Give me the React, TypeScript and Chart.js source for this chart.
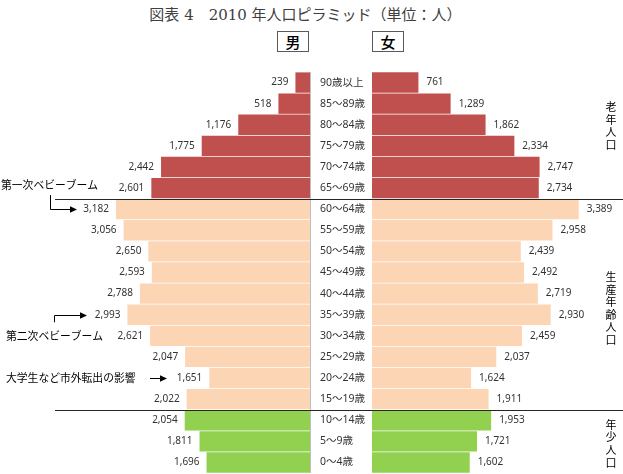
import React, { useEffect, useRef } from 'react';
import { Chart, registerables } from 'chart.js';

Chart.register(...registerables);

const categories = [
  '90歳以上', '85〜89歳', '80〜84歳', '75〜79歳', '70〜74歳', '65〜69歳',
  '60〜64歳', '55〜59歳', '50〜54歳', '45〜49歳', '40〜44歳', '35〜39歳',
  '30〜34歳', '25〜29歳', '20〜24歳', '15〜19歳', '10〜14歳', '5〜9歳', '0〜4歳',
];
const maleValues = [239, 518, 1176, 1775, 2442, 2601, 3182, 3056, 2650, 2593, 2788, 2993, 2621, 2047, 1651, 2022, 2054, 1811, 1696];
const femaleValues = [761, 1289, 1862, 2334, 2747, 2734, 3389, 2958, 2439, 2492, 2719, 2930, 2459, 2037, 1624, 1911, 1953, 1721, 1602];
const groupIndex = [0, 0, 0, 0, 0, 0, 1, 1, 1, 1, 1, 1, 1, 1, 1, 1, 2, 2, 2];
const groupNames = ['老年人口', '生産年齢人口', '年少人口'];
const groupColors = ['#C0504D', '#FCD5B5', '#92D050'];
const titleText = '図表 4　2010 年人口ピラミッド（単位：人）';
const sexLabels = ['男', '女'];
const notes = ['第一次ベビーブーム', '第二次ベビーブーム', '大学生など市外転出の影響'];

const AXIS_MAX = 4000;
const LABEL_FONT = '10px "Noto Sans", "Noto Sans CJK JP", sans-serif';
const CAT_FONT = '10.5px "Noto Sans", "Noto Sans CJK JP", sans-serif';
const NOTE_FONT = '10.8px "Noto Sans CJK JP", sans-serif';
const GROUP_FONT = '11px "Noto Sans CJK JP", sans-serif';
const TEXT_COLOR = '#333333';

const fmt = (v: number) => v.toLocaleString('en-US');
const barColors = groupIndex.map((g) => groupColors[g]);

function boundaries(chart: any): number[] {
  const y = chart.scales.y;
  const res: number[] = [];
  for (let i = 1; i < groupIndex.length; i++) {
    if (groupIndex[i] !== groupIndex[i - 1]) res.push(Math.round(y.getPixelForValue(i - 0.5)) + 0.5);
  }
  return res;
}

function arrowHead(ctx: CanvasRenderingContext2D, tx: number, ty: number) {
  ctx.beginPath();
  ctx.moveTo(tx, ty);
  ctx.lineTo(tx - 7, ty - 3.2);
  ctx.lineTo(tx - 7, ty + 3.2);
  ctx.closePath();
  ctx.fill();
}

function polyline(ctx: CanvasRenderingContext2D, pts: number[][]) {
  ctx.beginPath();
  ctx.moveTo(pts[0][0], pts[0][1]);
  for (let i = 1; i < pts.length; i++) ctx.lineTo(pts[i][0], pts[i][1]);
  ctx.stroke();
}

const leftPlugin = {
  id: 'leftDecor',
  afterDatasetsDraw(chart: any) {
    const ctx: CanvasRenderingContext2D = chart.ctx;
    const area = chart.chartArea;
    const y = chart.scales.y;
    ctx.save();
    ctx.strokeStyle = '#BFBFBF';
    ctx.lineWidth = 1;
    polyline(ctx, [[area.right + 0.5, area.top], [area.right + 0.5, area.bottom]]);
    ctx.strokeStyle = '#262626';
    boundaries(chart).forEach((by) => polyline(ctx, [[55, by], [chart.width, by]]));
    ctx.font = LABEL_FONT;
    ctx.fillStyle = TEXT_COLOR;
    ctx.textAlign = 'right';
    ctx.textBaseline = 'middle';
    const meta = chart.getDatasetMeta(0);
    meta.data.forEach((el: any, i: number) => {
      const p = el.getProps(['x', 'y'], true);
      ctx.fillText(fmt(maleValues[i]), p.x - 7, p.y);
    });
    const rowY = (i: number) => y.getPixelForValue(i);
    ctx.font = NOTE_FONT;
    ctx.fillStyle = '#000';
    ctx.strokeStyle = '#000';
    ctx.textAlign = 'left';
    ctx.fillText(notes[0], 1, rowY(5) - 3);
    const r6 = Math.round(rowY(6)) + 0.5;
    polyline(ctx, [[50.5, rowY(5) + 7], [50.5, r6], [71, r6]]);
    arrowHead(ctx, 77, r6);
    ctx.fillText(notes[1], 6, rowY(12));
    const r11 = Math.round(rowY(11)) + 0.5;
    polyline(ctx, [[54.5, rowY(12) - 13.5], [54.5, r11], [81, r11]]);
    arrowHead(ctx, 87, r11);
    ctx.fillText(notes[2], 6, rowY(14));
    const r14 = Math.round(rowY(14)) + 0.5;
    polyline(ctx, [[150, r14], [161, r14]]);
    arrowHead(ctx, 167, r14);
    ctx.restore();
  },
};

const rightPlugin = {
  id: 'rightDecor',
  afterDatasetsDraw(chart: any) {
    const ctx: CanvasRenderingContext2D = chart.ctx;
    const y = chart.scales.y;
    ctx.save();
    ctx.strokeStyle = '#262626';
    ctx.lineWidth = 1;
    boundaries(chart).forEach((by) => polyline(ctx, [[0, by], [chart.width, by]]));
    ctx.font = LABEL_FONT;
    ctx.fillStyle = TEXT_COLOR;
    ctx.textAlign = 'left';
    ctx.textBaseline = 'middle';
    const meta = chart.getDatasetMeta(0);
    meta.data.forEach((el: any, i: number) => {
      const p = el.getProps(['x', 'y'], true);
      ctx.fillText(fmt(femaleValues[i]), p.x + 8, p.y);
    });
    ctx.font = CAT_FONT;
    categories.forEach((c, i) => {
      ctx.fillText(c, 10, y.getPixelForValue(i));
    });
    ctx.font = GROUP_FONT;
    ctx.fillStyle = '#000';
    ctx.textAlign = 'center';
    const cx = 301;
    const centers = [2.05, 10.7, 17.1];
    groupNames.forEach((name, g) => {
      const center = y.getPixelForValue(centers[g]);
      const pitch = 12.6;
      const chars = Array.from(name);
      const start = center - ((chars.length - 1) * pitch) / 2;
      chars.forEach((ch, k) => ctx.fillText(ch, cx, start + k * pitch));
    });
    ctx.restore();
  },
};

function makeConfig(values: number[], reverse: boolean, padding: any, plugin: any): any {
  return {
    type: 'bar',
    data: {
      labels: categories,
      datasets: [
        {
          data: values,
          backgroundColor: barColors,
          borderWidth: 0,
          barPercentage: 0.965,
          categoryPercentage: 1,
        },
      ],
    },
    options: {
      indexAxis: 'y',
      responsive: false,
      animation: false,
      layout: { padding },
      scales: {
        x: { display: false, min: 0, max: AXIS_MAX, reverse },
        y: { display: false },
      },
      plugins: { legend: { display: false }, tooltip: { enabled: false } },
    },
    plugins: [plugin],
  };
}

export default function App() {
  const leftRef = useRef<HTMLCanvasElement>(null);
  const rightRef = useRef<HTMLCanvasElement>(null);

  useEffect(() => {
    const l = new Chart(leftRef.current as HTMLCanvasElement, makeConfig(maleValues, true, { left: 66, right: 10, top: 72, bottom: 1 }, leftPlugin));
    const r = new Chart(rightRef.current as HTMLCanvasElement, makeConfig(femaleValues, false, { left: 62, right: 7, top: 72, bottom: 1 }, rightPlugin));
    return () => {
      l.destroy();
      r.destroy();
    };
  }, []);

  const boxStyle = (left: number): React.CSSProperties => ({
    position: 'absolute',
    left,
    top: 31,
    width: 32,
    height: 21,
    boxSizing: 'border-box',
    border: '1px solid #595959',
    font: '500 15px "Noto Sans CJK JP", sans-serif',
    lineHeight: '19px',
    textAlign: 'center',
    color: '#000',
    background: '#fff',
  });

  return (
    <div style={{ position: 'absolute', left: 0, top: 0, width: 623, height: 474, background: '#fff', overflow: 'hidden' }}>
      <div
        style={{
          position: 'absolute',
          left: 0,
          top: 6,
          width: 611,
          textAlign: 'center',
          font: '15px "DejaVu Serif", "Liberation Serif", "Noto Sans CJK JP", serif',
          lineHeight: '18px',
          color: '#404040',
          whiteSpace: 'pre',
        }}
      >
        {titleText}
      </div>
      <div style={boxStyle(277)}>{sexLabels[0]}</div>
      <div style={boxStyle(372)}>{sexLabels[1]}</div>
      <canvas ref={leftRef} width={320} height={474} style={{ position: 'absolute', left: 0, top: 0, width: 320, height: 474 }} />
      <canvas ref={rightRef} width={313} height={474} style={{ position: 'absolute', left: 310, top: 0, width: 313, height: 474 }} />
    </div>
  );
}
